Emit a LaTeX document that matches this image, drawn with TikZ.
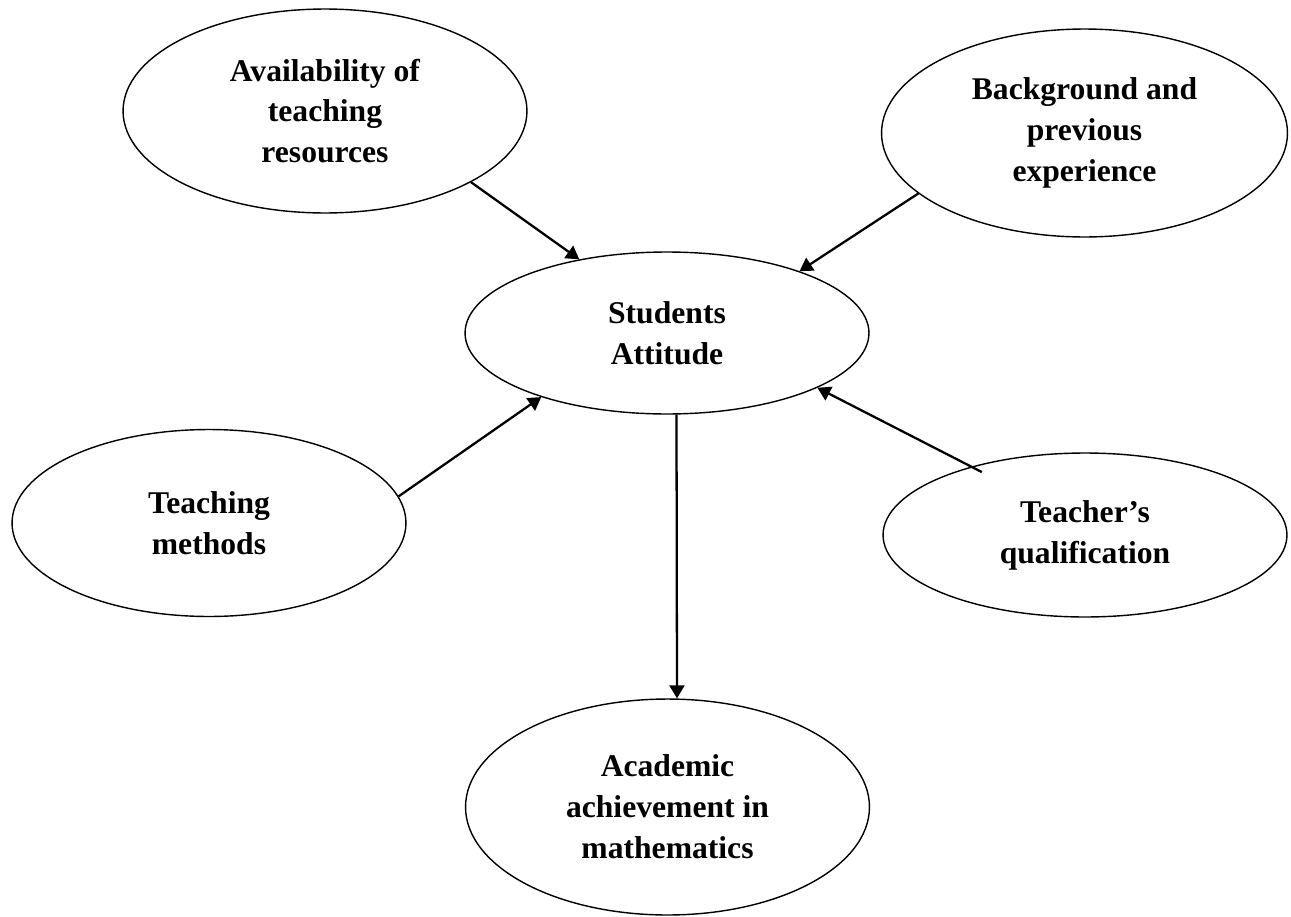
\documentclass[tikz,border=0pt]{standalone}
\usepackage{fontspec}
\setmainfont{Liberation Serif}
\usetikzlibrary{shapes.geometric}
\usetikzlibrary{arrows.meta}
\tikzset{
  factor/.style={
    % The shape:
    ellipse,inner sep=0pt,
    % The border:
    draw=black,line width=0.8pt,
    % The text:
    align=center,
    font=\fontsize{18}{23.3}\selectfont\bfseries}}
\tikzset{
	link/.style={
		% The line and its tip
		line width=1.3pt,
		-{Triangle[length=2.6mm,width=3mm]}}}

\begin{document}
\begin{tikzpicture}[x=0.02cm,y=-0.02cm]
	\useasboundingbox (0,0) rectangle (1291,916);
	% The factors
	\node[factor,minimum width=8.08cm,minimum height=4.08cm] (avail) at (325,111) {Availability of\\teaching\\resources};
	\node[factor,minimum width=8.12cm,minimum height=4.16cm] (backg) at (1084.5,133) {Background and\\previous\\experience};
	\node[factor,minimum width=7.88cm,minimum height=3.74cm] (teach) at (209,523) {Teaching\\methods};
	\node[factor,minimum width=8.08cm,minimum height=3.28cm] (qual) at (1085,535) {Teacher’s\\qualification};
	% The centre and the outcome
	\node[factor,minimum width=8.08cm,minimum height=3.24cm] (attit) at (667,333) {Students\\Attitude};
	\node[factor,minimum width=8.08cm,minimum height=4.32cm] (acad) at (667.5,807) {Academic\\achievement in\\mathematics};
	% Lines into attit
	\draw[link] (avail.-26.9) -- (attit.140.2);
	\draw[link] (backg.200.4) -- (attit.25.9);
	\draw[link] (teach.8) -- (attit.207.8);
	\draw[link,shorten <=-0.24cm] (qual.149) -- (attit.-20.2);
	% Line out of attit
	\draw[link] ([xshift=0.19cm]attit.south) -- ([xshift=0.19cm]acad.north);
\end{tikzpicture}
\end{document}
